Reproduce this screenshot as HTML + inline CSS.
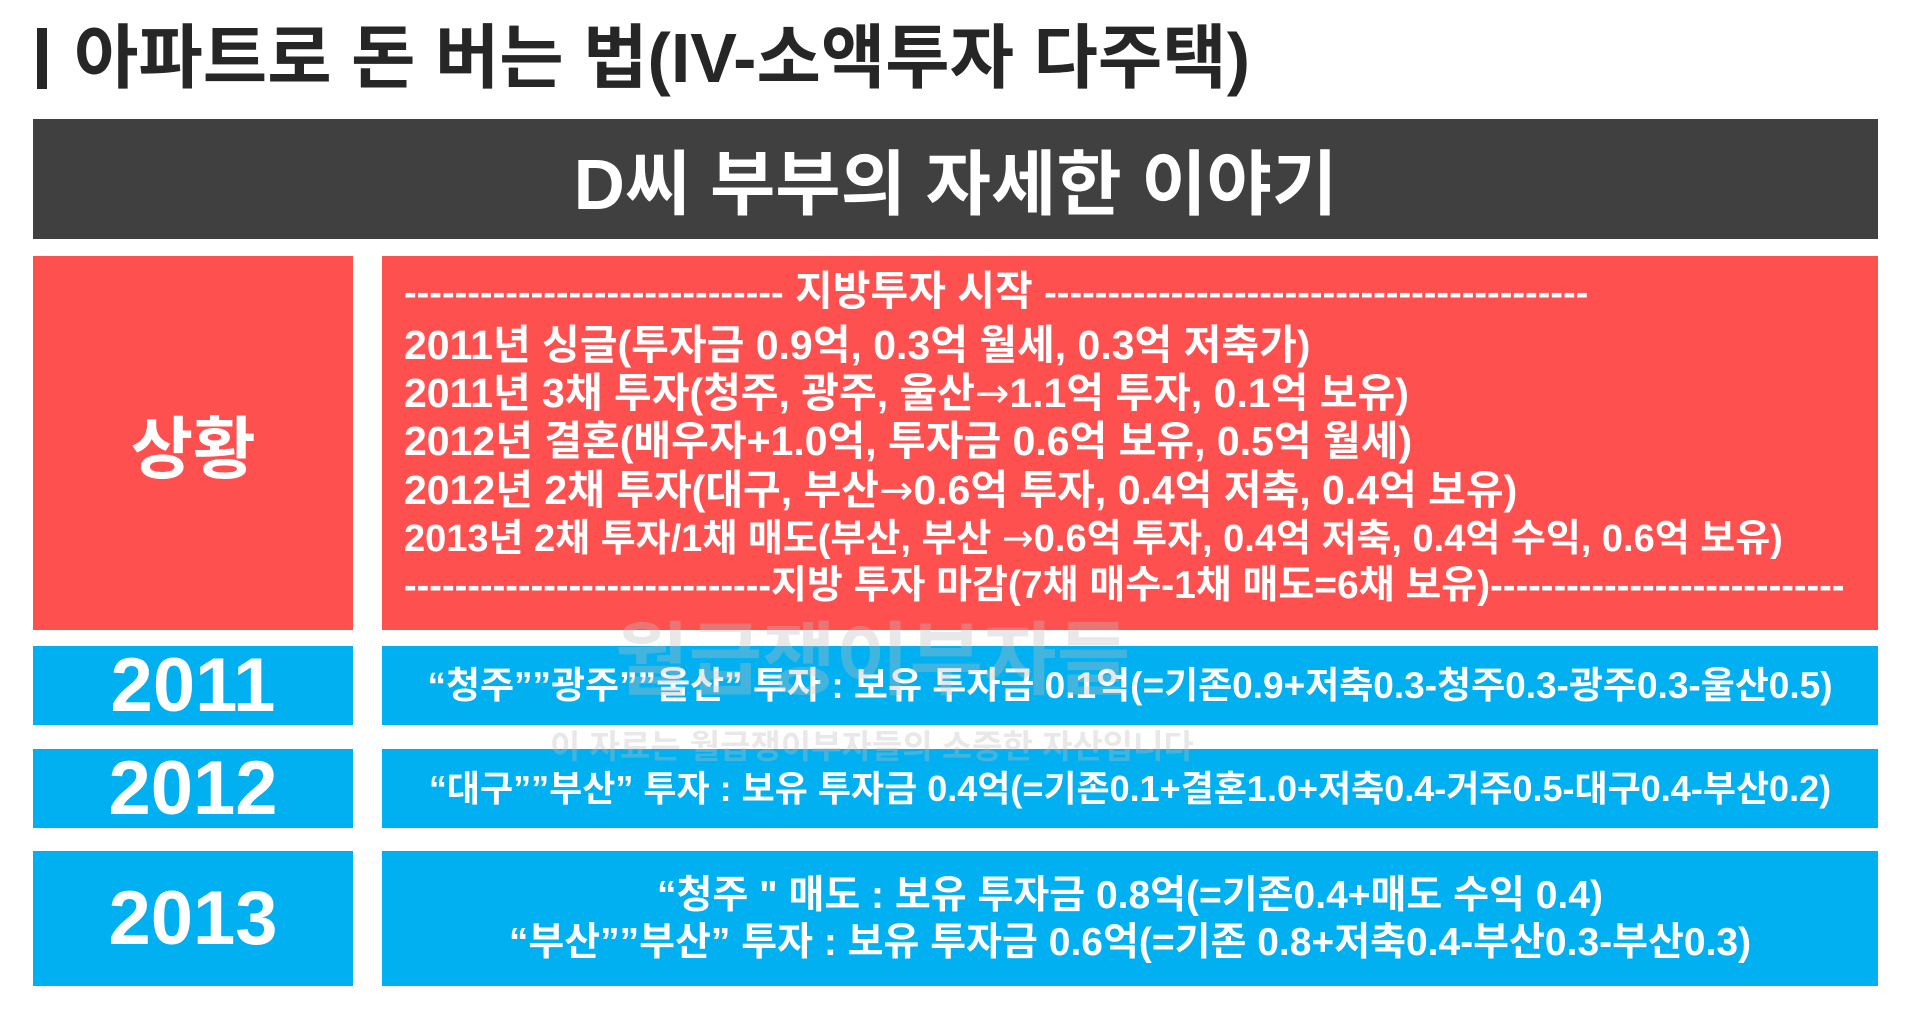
<!DOCTYPE html>
<html><head><meta charset="utf-8">
<style>
*{margin:0;padding:0;box-sizing:border-box}
body{width:1920px;height:1010px;background:#fff;position:relative;overflow:hidden;font-family:"Liberation Sans","Noto Sans CJK KR",sans-serif;font-weight:bold}
.abs{position:absolute}
.box{position:absolute;display:flex;align-items:center;justify-content:center;color:#fff}
#title{left:74px;top:16px;font-size:70px;color:#262626;white-space:nowrap;line-height:84px}
.red{background:#FF5050}
.blue{background:#00B0F0}
.yr{font-size:76px}
.ln{position:absolute;left:404px;font-size:41px;color:#fff;white-space:nowrap;line-height:46px}
.d{font-size:38px}
.ar{font-family:"DejaVu Sans",sans-serif;font-weight:normal}
.bt{font-size:37px;text-align:center;line-height:47px;white-space:nowrap}
</style></head><body>
<div class="abs" style="left:37px;top:28px;width:10px;height:61px;background:#262626"></div>
<div id="title" class="abs">아파트로 돈 버는 법(IV-소액투자 다주택)</div>
<div class="box" style="left:33px;top:119px;width:1845px;height:120px;background:#404040;font-size:71px">D씨 부부의 자세한 이야기</div>

<div class="box red" style="left:33px;top:256px;width:320px;height:374px;font-size:68px">상황</div>
<div class="abs red" style="left:382px;top:256px;width:1496px;height:374px"></div>
<div class="ln" style="top:268px"><span class="d">------------------------------</span> 지방투자 시작 <span class="d">-------------------------------------------</span></div>
<div class="ln" style="top:322px">2011년 싱글(투자금 0.9억, 0.3억 월세, 0.3억 저축가)</div>
<div class="ln" style="top:370px">2011년 3채 투자(청주, 광주, 울산<span class="ar">→</span>1.1억 투자, 0.1억 보유)</div>
<div class="ln" style="top:418px">2012년 결혼(배우자+1.0억, 투자금 0.6억 보유, 0.5억 월세)</div>
<div class="ln" style="top:467px">2012년 2채 투자(대구, 부산<span class="ar">→</span>0.6억 투자, 0.4억 저축, 0.4억 보유)</div>
<div class="ln" style="top:515px;font-size:38px">2013년 2채 투자/1채 매도(부산, 부산 <span class="ar">→</span>0.6억 투자, 0.4억 저축, 0.4억 수익, 0.6억 보유)</div>
<div class="ln" style="top:563px;font-size:39px"><span class="d">-----------------------------</span>지방 투자 마감(7채 매수-1채 매도=6채 보유)<span class="d">----------------------------</span></div>

<div class="box blue yr" style="left:33px;top:646px;width:320px;height:79px">2011</div>
<div class="box blue bt" style="left:382px;top:646px;width:1496px;height:79px">“청주””광주””울산” 투자 : 보유 투자금 0.1억(=기존0.9+저축0.3-청주0.3-광주0.3-울산0.5)</div>

<div class="box blue yr" style="left:33px;top:749px;width:320px;height:79px">2012</div>
<div class="box blue bt" style="left:382px;top:749px;width:1496px;height:79px;font-size:36px">“대구””부산” 투자 : 보유 투자금 0.4억(=기존0.1+결혼1.0+저축0.4-거주0.5-대구0.4-부산0.2)</div>

<div class="box blue yr" style="left:33px;top:851px;width:320px;height:135px">2013</div>
<div class="box blue bt" style="left:382px;top:851px;width:1496px;height:135px;font-size:39px"><div>“청주 " 매도 : 보유 투자금 0.8억(=기존0.4+매도 수익 0.4)<br>“부산””부산” 투자 : 보유 투자금 0.6억(=기존 0.8+저축0.4-부산0.3-부산0.3)</div></div>

<div class="abs" style="left:615px;top:596px;font-size:80px;color:rgba(190,190,190,0.35);white-space:nowrap">월급쟁이부자들</div>
<div class="abs" style="left:550px;top:720px;font-size:33px;color:rgba(190,190,190,0.35);white-space:nowrap">이 자료는 월급쟁이부자들의 소중한 자산입니다</div>
</body></html>
